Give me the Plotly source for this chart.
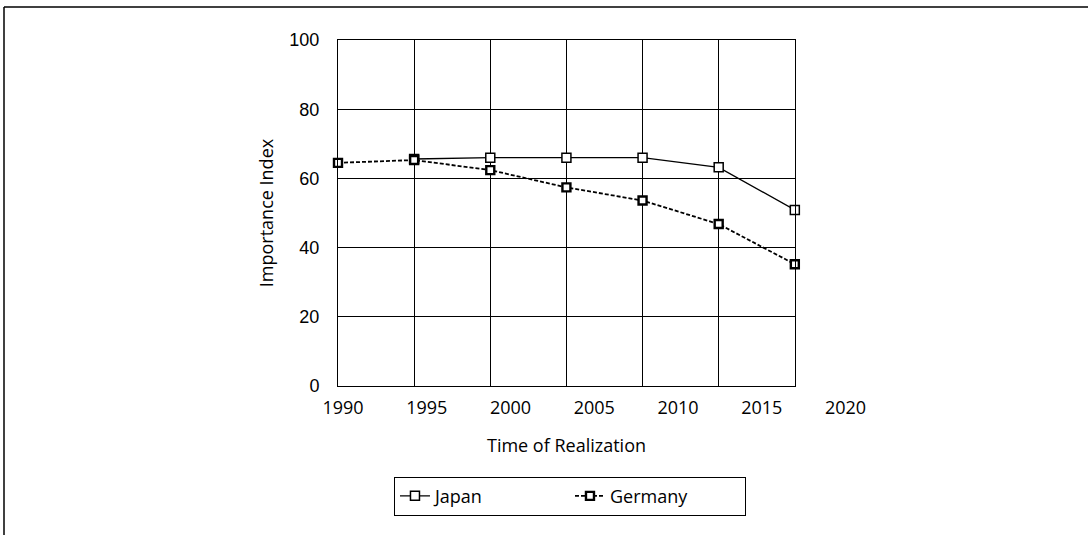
import plotly.graph_objects as go

# Data (x in years, y = importance index)
japan_years = [1994.25, 1998.8, 2003.35, 2007.9, 2012.45, 2017.0]
japan_values = [65.6, 66.0, 66.0, 66.0, 63.2, 50.9]
germany_years = [1989.7, 1994.25, 1998.8, 2003.35, 2007.9, 2012.45, 2017.0]
germany_values = [64.5, 65.3, 62.4, 57.4, 53.6, 46.8, 35.2]
grid_years = [1989.7, 1994.25, 1998.8, 2003.35, 2007.9, 2012.45, 2017.0]
label_years = [1990, 1995, 2000, 2005, 2010, 2015, 2020]
y_ticks = [0, 20, 40, 60, 80, 100]

FONT = "Open Sans"

fig = go.Figure()
fig.add_trace(go.Scatter(
    x=japan_years, y=japan_values, name="Japan", mode="lines+markers",
    line=dict(color="black", width=1.3), cliponaxis=False,
    marker=dict(symbol="square", size=9, color="white", line=dict(color="black", width=1.5)),
))
fig.add_trace(go.Scatter(
    x=germany_years, y=germany_values, name="Germany", mode="lines+markers",
    line=dict(color="black", width=1.8, dash="4px,2px"), cliponaxis=False,
    marker=dict(symbol="square", size=8, color="white", line=dict(color="black", width=2.4)),
))
# helper trace so the label axis is drawn (nothing visible)
fig.add_trace(go.Scatter(
    x=label_years, y=[None] * len(label_years), xaxis="x2", yaxis="y2",
    mode="markers", showlegend=False, hoverinfo="skip",
    marker=dict(opacity=0),
))

main_end = (795 - 338) / (880 - 338)

fig.update_layout(
    width=1088, height=535,
    margin=dict(l=338, r=208, t=40, b=149),
    paper_bgcolor="white", plot_bgcolor="rgba(0,0,0,0)",
    font=dict(family=FONT, size=18, color="black"),
    showlegend=True,
    legend=dict(orientation="h", x=0.428, xanchor="center", y=-0.262, yanchor="top",
                bordercolor="black", borderwidth=1, font=dict(size=18, family=FONT),
                entrywidth=130, entrywidthmode="pixels", bgcolor="rgba(0,0,0,0)"),
    xaxis=dict(domain=[0, main_end], range=[1989.7, 2017.01], tickmode="array",
               tickvals=grid_years, showticklabels=False, ticks="",
               showgrid=True, gridcolor="black", gridwidth=1,
               showline=True, linecolor="black", linewidth=1, mirror=True,
               zeroline=False,
               title=dict(text="Time of Realization", standoff=53, font=dict(size=18))),
    yaxis=dict(range=[0, 100], tickmode="array", tickvals=y_ticks,
               showgrid=True, gridcolor="black", gridwidth=1,
               showline=True, linecolor="black", linewidth=1, mirror=True,
               zeroline=False, ticks="", ticklabelstandoff=14,
               tickfont=dict(family="Liberation Sans", size=18),
               title=dict(text="Importance Index", standoff=11, font=dict(size=18))),
    xaxis2=dict(domain=[0, 1], range=[1989.7, 2022.06], anchor="y2",
                tickmode="array", tickvals=label_years, ticks="",
                showgrid=False, showline=False, zeroline=False,
                ticklabelstandoff=9,
                tickfont=dict(family=FONT, size=18)),
    yaxis2=dict(domain=[0, 1], range=[0, 100], anchor="x2", showgrid=False,
                showline=False, zeroline=False, showticklabels=False, ticks=""),
)

# page border (top and left) of the scanned figure
px_to_x = lambda p: (p - 338) / 542
py_to_y = lambda p: (386 - p) / 346
fig.add_shape(type="line", xref="paper", yref="paper",
              x0=px_to_x(4), x1=px_to_x(1088), y0=py_to_y(7), y1=py_to_y(7),
              line=dict(color="black", width=1.5))
fig.add_shape(type="line", xref="paper", yref="paper",
              x0=px_to_x(4), x1=px_to_x(4), y0=py_to_y(7), y1=py_to_y(535),
              line=dict(color="black", width=1.5))

fig.write_html("out.html", config={"displayModeBar": False},
               post_script="document.body.style.margin='0';")
